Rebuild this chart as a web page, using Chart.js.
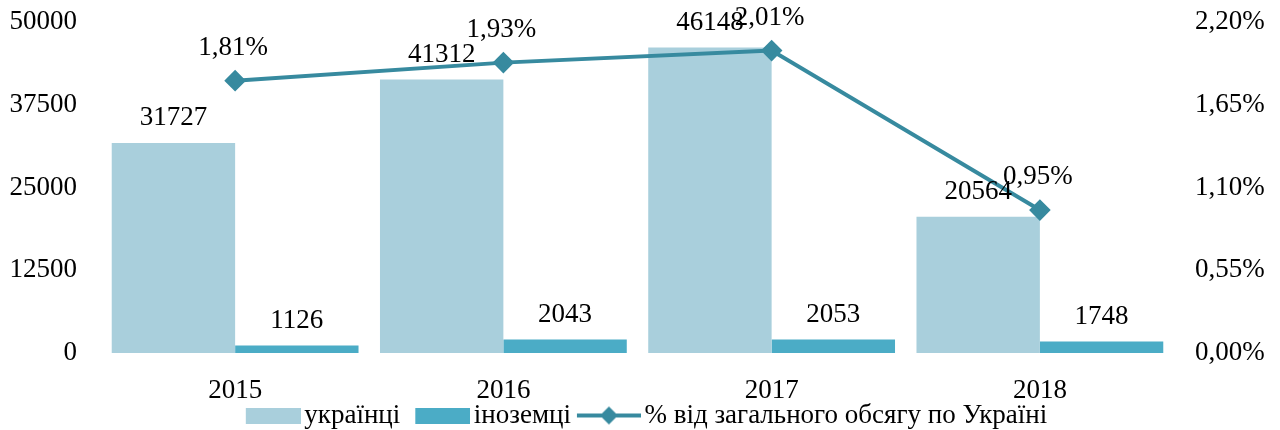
<!DOCTYPE html>
<html lang="uk">
<head>
<meta charset="UTF-8">
<title>chart</title>
<script src="https://cdn.jsdelivr.net/npm/chart.js"></script>
<style>
  html, body { margin: 0; padding: 0; background: #fff; }
  #wrap { width: 1280px; height: 430px; }
</style>
</head>
<body>
<div id="wrap"><canvas id="c" width="1280" height="430"></canvas></div>
<script>
const years = ['2015', '2016', '2017', '2018'];
const ukrainians = [31727, 41312, 46148, 20564];
const foreigners = [1126, 2043, 2053, 1748];
const sharePct = [1.81, 1.93, 2.01, 0.95];
const leftTicks = [0, 12500, 25000, 37500, 50000];
const rightTicks = [0, 0.55, 1.10, 1.65, 2.20];

const colUkr = '#a9cfdc';
const colFor = '#4bacc6';
const colLine = '#378a9f';
const font = 'Liberation Serif, Times New Roman, serif';
const fs = 27;

// legend icon box: 58px wide slot, icon drawn flush right so the label sits close
const legW = 58;
function iconCanvas(draw, contentW, h) {
  const half = legW / 2 + 10;
  const c = document.createElement('canvas');
  c.width = half * 2; c.height = h;
  const g = c.getContext('2d');
  draw(g, c.width - contentW, contentW);
  return c;
}
function boxIcon(color) {
  return iconCanvas((g, x0, w) => { g.fillStyle = color; g.fillRect(x0, 0, w, 16); }, 55, 16);
}
function lineIcon() {
  return iconCanvas((g, x0, w) => {
    g.strokeStyle = colLine; g.lineWidth = 4;
    g.beginPath(); g.moveTo(x0, 10); g.lineTo(x0 + w, 10); g.stroke();
    const cx = x0 + w / 2;
    g.fillStyle = colLine;
    g.beginPath(); g.moveTo(cx, 1); g.lineTo(cx + 9, 10); g.lineTo(cx, 19); g.lineTo(cx - 9, 10); g.closePath(); g.fill();
  }, 64, 20);
}

function fmtPct(v) { return v.toFixed(2).replace('.', ',') + '%'; }

const labelsPlugin = {
  id: 'valueLabels',
  afterDatasetsDraw(chart) {
    const ctx = chart.ctx;
    ctx.save();
    ctx.font = fs + 'px ' + font;
    ctx.fillStyle = '#000';
    ctx.textAlign = 'center';
    ctx.textBaseline = 'middle';
    chart.data.datasets.forEach((ds, i) => {
      const meta = chart.getDatasetMeta(i);
      meta.data.forEach((el, j) => {
        if (ds.type === 'line') {
          ctx.fillText(fmtPct(ds.data[j]), el.x - 2, el.y - 33);
        } else {
          ctx.fillText(String(ds.data[j]), el.x, el.y - 25);
        }
      });
    });
    ctx.restore();
  }
};

// invisible tick marks keep the labels away from the plot without inflating the top overhang
const hiddenGrid = { display: false, drawTicks: true, tickLength: 20 };

new Chart(document.getElementById('c'), {
  data: {
    labels: years,
    datasets: [
      { type: 'bar', label: 'українці', data: ukrainians, backgroundColor: colUkr, yAxisID: 'y', order: 1,
        categoryPercentage: 0.92, barPercentage: 1 },
      { type: 'bar', label: 'іноземці', data: foreigners, backgroundColor: colFor, yAxisID: 'y', order: 1,
        categoryPercentage: 0.92, barPercentage: 1 },
      { type: 'line', label: '% від загального обсягу по Україні', data: sharePct, yAxisID: 'y1', order: 0,
        borderColor: colLine, backgroundColor: colLine, borderWidth: 4, pointStyle: 'rectRot',
        pointRadius: 8, pointHoverRadius: 8, tension: 0 }
    ]
  },
  options: {
    responsive: false,
    animation: false,
    layout: { padding: { top: 22, bottom: -9, left: 0, right: 0 } },
    plugins: {
      tooltip: { enabled: false },
      legend: {
        position: 'bottom',
        labels: {
          usePointStyle: true,
          pointStyleWidth: legW,
          font: { family: font, size: fs, lineHeight: 1 },
          color: '#000',
          padding: 2,
          generateLabels() {
            return [
              { text: 'українці', pointStyle: boxIcon(colUkr), datasetIndex: 0, fontColor: '#000' },
              { text: 'іноземці', pointStyle: boxIcon(colFor), datasetIndex: 1, fontColor: '#000' },
              { text: '% від загального обсягу по Україні', pointStyle: lineIcon(), datasetIndex: 2, fontColor: '#000' }
            ];
          }
        }
      }
    },
    scales: {
      x: {
        grid: { display: false, drawTicks: false },
        border: { display: false },
        afterFit(s) { s.height = 47; },
        ticks: { color: '#000', font: { family: font, size: fs }, padding: 22 }
      },
      y: {
        position: 'left',
        min: 0, max: 50000,
        grid: hiddenGrid,
        border: { display: false },
        afterFit(s) { s.width = 101; },
        afterBuildTicks(s) { s.ticks = leftTicks.map(v => ({ value: v })); },
        ticks: { color: '#000', font: { family: font, size: fs, lineHeight: 1 }, padding: 4, callback: v => String(v) }
      },
      y1: {
        position: 'right',
        min: 0, max: 2.2,
        grid: { display: false, drawTicks: true, tickLength: 17 },
        border: { display: false },
        afterFit(s) { s.width = 106; },
        afterBuildTicks(s) { s.ticks = rightTicks.map(v => ({ value: v })); },
        ticks: { color: '#000', font: { family: font, size: fs, lineHeight: 1 }, padding: 4, callback: v => fmtPct(v) }
      }
    }
  },
  plugins: [labelsPlugin]
});
</script>
</body>
</html>
